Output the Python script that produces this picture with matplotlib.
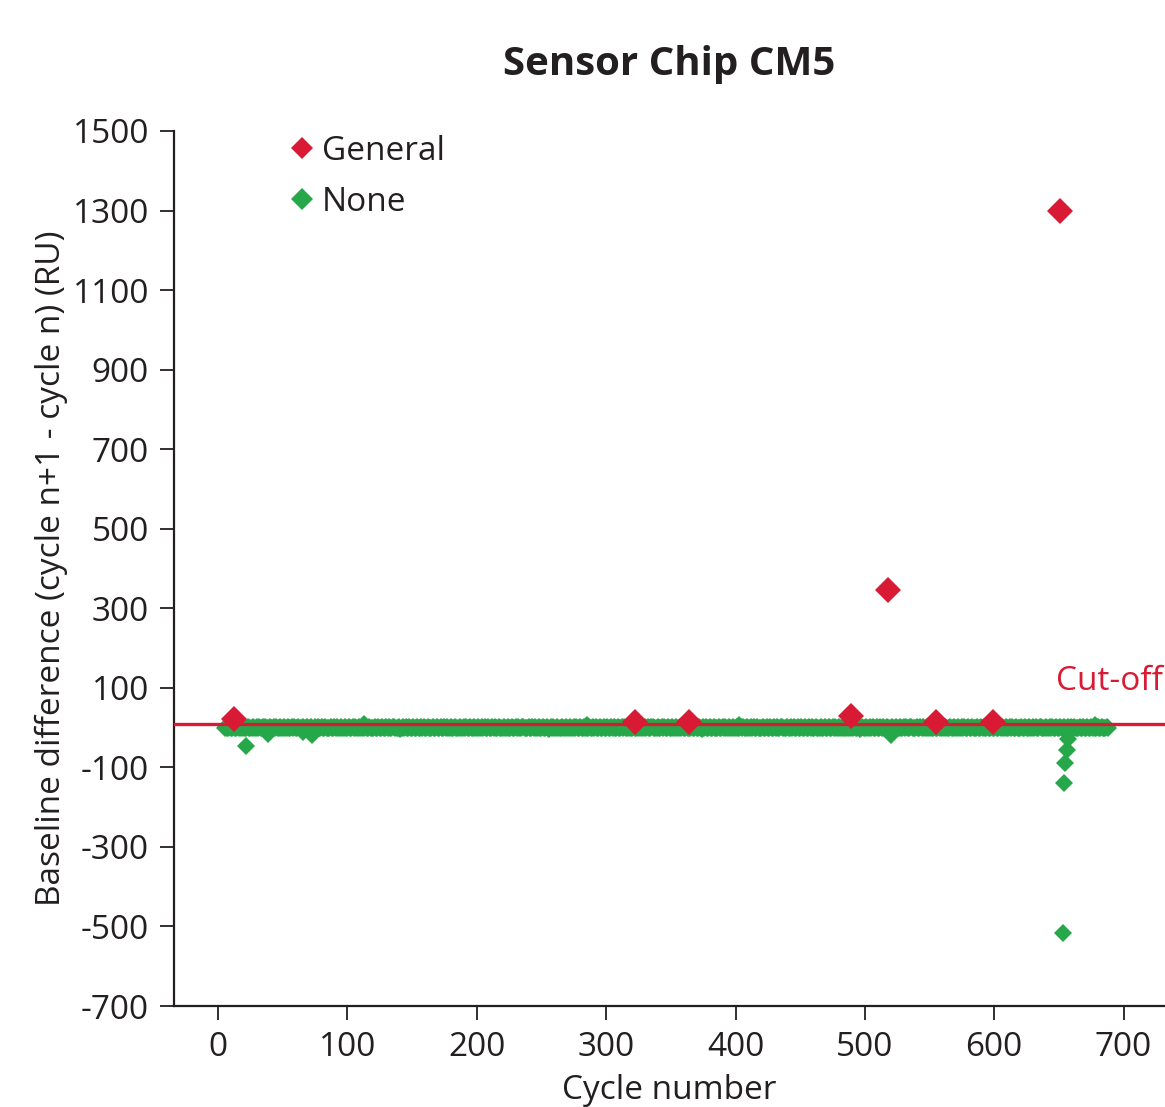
import matplotlib
matplotlib.use("Agg")
import matplotlib.pyplot as plt
from matplotlib.lines import Line2D
import numpy as np

plt.rcParams['font.family'] = ['Open Sans', 'DejaVu Sans']
plt.rcParams['axes.unicode_minus'] = False

# ---- data ----
general_cycles = [12, 322, 364, 489, 518, 555, 599, 651]
general_values = [21, 13, 15, 30, 346, 14, 13, 1299]

none_start_cycle = 5
none_values = [
    0, 1, -1, 0, 1, 0, -1, 1, 0, -2, 1, 0, 1, -1, 0, 2, 0, -1, 1, 0,
    -1, 0, 1, 0, -2, 1, 0, 1, -1, 0, 1, 2, 0, -1, 0, 1, -2, 0, 1, 0,
    1, -1, 0, 2, 0, -1, 1, 0, -1, 1, 0, -2, 1, 0, 1, -1, 0, 1, 0, -1,
    0, 1, -1, 0, 2, 0, -1, 1, 0, -3, 1, 0, 1, -1, 0, 1, 0, -1, 2, 0,
    -1, 0, 1, 0, -1, 1, 0, 2, -1, 0, 1, -2, 0, 1, 0, -1, 1, 0, -1, 1,
    0, 2, 0, -1, 1, 0, -2, 1, 0, 1, -1, 0, 1, 0, -1, 0, 2, -1, 0, 1,
    -1, 0, 1, 0, -2, 1, 0, 1, -1, 0, 1, 2, 0, -1, 0, 1, -3, 0, 1, 0,
    1, -1, 0, 2, 0, -1, 1, 0, -1, 1, 0, -2, 1, 0, 1, -1, 0, 1, 0, -1,
    0, 1, -1, 0, 2, 0, -1, 1, 0, -2, 1, 0, 1, -1, 0, 1, 0, -1, 2, 0,
    -1, 0, 1, 0, -1, 1, 0, 2, -1, 0, 1, -2, 0, 1, 0, -1, 1, 0, -1, 1,
    0, 2, 0, -1, 1, 0, -2, 1, 0, 1, -1, 0, 1, 0, -1, 0, 2, -1, 0, 1,
    -1, 0, 1, 0, -2, 1, 0, 1, -1, 0, 1, 2, 0, -1, 0, 1, -2, 0, 1, 0,
    1, -1, 0, 2, 0, -1, 1, 0, -1, 1, 0, -3, 1, 0, 1, -1, 0, 1, 0, -1,
    0, 1, -1, 0, 2, 0, -1, 1, 0, -2, 1, 0, 1, -1, 0, 1, 0, -1, 2, 0,
    -1, 0, 1, 0, -1, 1, 0, 2, -1, 0, 1, -2, 0, 1, 0, -1, 1, 0, -1, 1,
    0, 2, 0, -1, 1, 0, -2, 1, 0, 1, -1, 0, 1, 0, -1, 0, 2, -1, 0, 1,
    -1, 0, 1, 0, -2, 1, 0, 1, -1, 0, 1, 2, 0, -1, 0, 1, -2, 0, 1, 0,
    1, -1, 0, 2, 0, -1, 1, 0, -1, 1, 0, -2, 1, 0, 1, -1, 0, 1, 0, -1,
    0, 1, -1, 0, 2, 0, -1, 1, 0, -3, 1, 0, 1, -1, 0, 1, 0, -1, 2, 0,
    -1, 0, 1, 0, -1, 1, 0, 2, -1, 0, 1, -2, 0, 1, 0, -1, 1, 0, -1, 1,
    0, 2, 0, -1, 1, 0, -2, 1, 0, 1, -1, 0, 1, 0, -1, 0, 2, -1, 0, 1,
    -1, 0, 1, 0, -2, 1, 0, 1, -1, 0, 1, 2, 0, -1, 0, 1, -2, 0, 1, 0,
    1, -1, 0, 2, 0, -1, 1, 0, -1, 1, 0, -2, 1, 0, 1, -1, 0, 1, 0, -1,
    0, 1, -1, 0, 2, 0, -1, 1, 0, -2, 1, 0, 1, -1, 0, 1, 0, -1, 2, 0,
    -1, 0, 1, 0, -1, 1, 0, 2, -1, 0, 1, -3, 0, 1, 0, -1, 1, 0, -1, 1,
    0, 2, 0, -1, 1, 0, -2, 1, 0, 1, -1, 0, 1, 0, -1, 0, 2, -1, 0, 1,
    -1, 0, 1, 0, -2, 1, 0, 1, -1, 0, 1, 2, 0, -1, 0, 1, -2, 0, 1, 0,
    1, -1, 0, 2, 0, -1, 1, 0, -1, 1, 0, -2, 1, 0, 1, -1, 0, 1, 0, -1,
    0, 1, -1, 0, 2, 0, -1, 1, 0, -2, 1, 0, 1, -1, 0, 1, 0, -1, 2, 0,
    -1, 0, 1, 0, -1, 1, 0, 2, -1, 0, 1, -2, 0, 1, 0, -1, 1, 0, -1, 1,
    0, 2, 0, -1, 1, 0, -2, 1, 0, 1, -1, 0, 1, 0, -1, 0, 2, -1, 0, 1,
    -1, 0, 1, 0, -2, 1, 0, 1, -1, 0, 1, 2, 0, -1, 0, 1, -2, 0, 1, 0,
    1, -1, 0, 2, 0, -1, 1, 0, -1, 1, 0, -2, 1, 0, 1, -1, 0, 1, 0, -1,
    0, 1, -1, 0, 2, 0, -1, 1, 0, -2, 1, 0, 1, -1, 0, 1, 0, -1, 2, 0,
    -1, 0, 1, -2,
]

none_outlier_cycles = [22, 39, 66, 73, 113, 285, 403, 520, 653, 654, 655, 656, 657, 658, 678]
none_outlier_values = [-45, -16, -11, -19, 8, 6, 6, -18, -516, -139, -88, -56, -28, -14, 6]

cutoff_value = 10
cutoff_label = "Cut-off"

x_ticks = [0, 100, 200, 300, 400, 500, 600, 700]
y_ticks = [-700, -500, -300, -100, 100, 300, 500, 700, 900, 1100, 1300, 1500]

RED = "#d91a34"
GREEN = "#26a84a"
TXT = "#231f20"
FS = 24

# ---- figure ----
fig = plt.figure(figsize=(11.65, 11.07), dpi=100)
ax = fig.add_axes([0.1494, 0.0912, 0.8506, 0.7905])

none_cycles = np.arange(none_start_cycle, none_start_cycle + len(none_values))
all_none_x = np.concatenate([none_cycles, none_outlier_cycles])
all_none_y = np.concatenate([none_values, none_outlier_values])

ax.axhline(cutoff_value, color=RED, lw=2.4, zorder=3)
ax.plot(all_none_x, all_none_y, ls='none', marker='D', ms=9.5,
        color=GREEN, mec=GREEN, mew=0, zorder=2)
ax.plot(general_cycles, general_values, ls='none', marker='D', ms=13,
        color=RED, mec=RED, mew=0, zorder=4)

ax.text(0.998, 115, cutoff_label, transform=ax.get_yaxis_transform(),
        ha='right', va='center', color=RED, fontsize=FS)

ax.set_xlim(-34, 732)
ax.set_ylim(-700, 1500)
ax.set_xticks(x_ticks)
ax.set_yticks(y_ticks)
ax.tick_params(axis='both', labelsize=FS, length=10, width=1.3, colors=TXT, pad=8)
for s in ['top', 'right']:
    ax.spines[s].set_visible(False)
for s in ['left', 'bottom']:
    ax.spines[s].set_linewidth(1.6)
    ax.spines[s].set_color(TXT)

ax.set_xlabel("Cycle number", fontsize=FS, color=TXT, labelpad=7)
ax.set_ylabel("Baseline difference (cycle n+1 - cycle n) (RU)", fontsize=FS, color=TXT, labelpad=3)
ax.set_title("Sensor Chip CM5", fontsize=29, fontweight='bold', color=TXT, pad=40)

handles = [Line2D([], [], ls='none', marker='D', ms=11, color=RED, mew=0),
           Line2D([], [], ls='none', marker='D', ms=11, color=GREEN, mew=0)]
leg = ax.legend(handles, ['General', 'None'], loc='upper left', bbox_to_anchor=(0.085, 1.03),
                frameon=False, fontsize=FS, handletextpad=0.2,
                handlelength=0.8, labelspacing=0.55)
for t in leg.get_texts():
    t.set_color(TXT)

fig.savefig("out.png", dpi=100)
